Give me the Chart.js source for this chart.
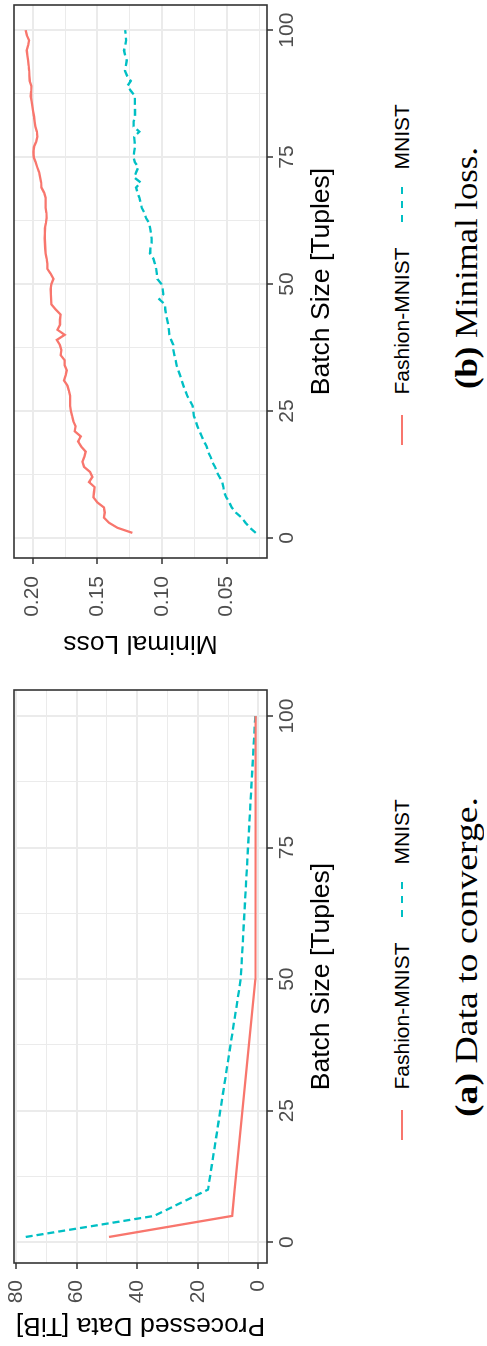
<!DOCTYPE html>
<html><head><meta charset="utf-8">
<script src="https://cdn.jsdelivr.net/npm/chart.js@4.4.0/dist/chart.umd.min.js"></script>
<style>
html,body{margin:0;padding:0;background:#fff;overflow:hidden;width:487px;height:1346px;}
#page{position:absolute;left:0;top:0;width:1346px;height:487px;transform-origin:0 0;transform:translate(0,1346px) rotate(-90deg);background:#fff;}
#page canvas{position:absolute;top:0;}
.lg{position:absolute;font-family:"Liberation Sans",Arial,sans-serif;font-size:21px;line-height:24px;color:#000;white-space:nowrap;}
.key{position:absolute;height:2px;}
.cap{position:absolute;font-family:"Liberation Serif","Times New Roman",serif;font-size:31px;line-height:34px;color:#000;white-space:nowrap;transform-origin:0 50%;}
</style></head>
<body>
<div id="page">
  <canvas id="ca" width="673" height="338" style="left:0px"></canvas>
  <canvas id="cb" width="673" height="338" style="left:673px"></canvas>
</div>
<script>
// ---------- data ----------
const SERIES_NAMES = ["Fashion-MNIST", "MNIST"];
const SERIES_COLORS = ["#F8766D", "#00BFC4"];

// (a) Data to converge
const BATCH_A = [1, 5, 10, 50, 100];
const FASHION_A = [49.3, 8.6, 7.8, 1.0, 0.9];
const MNIST_A = [76.8, 34.4, 16.6, 5.8, 1.0];

// (b) Minimal loss
const BATCH_B = [1,2,3,4,5,6,7,8,9,10,11,12,13,14,15,16,17,18,19,20,
  21,22,23,24,25,26,27,28,29,30,31,32,33,34,35,36,37,38,39,40,
  41,42,43,44,45,46,47,48,49,50,51,52,53,54,55,56,57,58,59,60,
  61,62,63,64,65,66,67,68,69,70,71,72,73,74,75,76,77,78,79,80,
  81,82,83,84,85,86,87,88,89,90,91,92,93,94,95,96,97,98,99,100];
const FASHION_B = [0.1230,0.1345,0.1410,0.1449,0.1443,0.1449,0.1500,0.1531,0.1526,0.1521,
  0.1564,0.1539,0.1557,0.1603,0.1616,0.1600,0.1590,0.1625,0.1650,0.1629,
  0.1675,0.1668,0.1686,0.1695,0.1705,0.1711,0.1711,0.1711,0.1720,0.1732,
  0.1758,0.1745,0.1737,0.1753,0.1753,0.1784,0.1778,0.1790,0.1814,0.1753,
  0.1809,0.1789,0.1789,0.1784,0.1822,0.1856,0.1858,0.1860,0.1861,0.1855,
  0.1840,0.1861,0.1887,0.1887,0.1893,0.1900,0.1903,0.1905,0.1907,0.1906,
  0.1905,0.1898,0.1892,0.1895,0.1900,0.1900,0.1900,0.1912,0.1933,0.1935,
  0.1943,0.1951,0.1965,0.1977,0.1992,0.1995,0.1990,0.1974,0.1964,0.1968,
  0.1980,0.1985,0.1990,0.1997,0.2003,0.2009,0.2015,0.2012,0.2010,0.2023,
  0.2025,0.2027,0.2031,0.2036,0.2041,0.2046,0.2036,0.2028,0.2046,0.2054];
const MNIST_B = [0.0275,0.0320,0.0355,0.0384,0.0430,0.0461,0.0480,0.0503,0.0520,0.0526,
  0.0535,0.0555,0.0577,0.0590,0.0612,0.0625,0.0645,0.0655,0.0675,0.0693,
  0.0710,0.0727,0.0740,0.0753,0.0758,0.0763,0.0785,0.0805,0.0820,0.0835,
  0.0848,0.0860,0.0874,0.0888,0.0895,0.0905,0.0912,0.0912,0.0930,0.0943,
  0.0947,0.0951,0.0960,0.0969,0.0975,0.0977,0.1021,0.0990,0.0995,0.1005,
  0.1036,0.1040,0.1046,0.1055,0.1067,0.1093,0.1090,0.1080,0.1080,0.1085,
  0.1093,0.1100,0.1124,0.1135,0.1157,0.1165,0.1175,0.1190,0.1201,0.1165,
  0.1216,0.1200,0.1183,0.1210,0.1220,0.1215,0.1209,0.1212,0.1216,0.1175,
  0.1220,0.1220,0.1209,0.1209,0.1209,0.1210,0.1209,0.1240,0.1268,0.1242,
  0.1270,0.1286,0.1280,0.1273,0.1285,0.1294,0.1285,0.1278,0.1280,0.1286];

// ticks
const X_MAJOR = [0, 25, 50, 75, 100];
const X_MINOR = [12.5, 37.5, 62.5, 87.5];
const YA_MAJOR = [0, 20, 40, 60, 80];
const YA_MINOR = [10, 30, 50, 70];
const YB_MAJOR = [0.05, 0.10, 0.15, 0.20];
const YB_MINOR = [0.025, 0.075, 0.125, 0.175];

const X_TITLE = "Batch Size [Tuples]";
const YA_TITLE = "Processed Data [TiB]";
const YB_TITLE = "Minimal Loss";
const CAPTIONS = [["(a)", " Data to converge."], ["(b)", " Minimal loss."]];

// ---------- drawing ----------
const SANS = "'Liberation Sans', Arial, sans-serif";
const near = (a, b) => Math.abs(a - b) < 1e-9;
const isIn = (arr, v) => arr.some(a => near(a, v));

const panelBorder = {
  id: 'panelBorder',
  afterDraw(chart) {
    const {ctx, chartArea: a} = chart;
    ctx.save();
    ctx.strokeStyle = '#333333';
    ctx.lineWidth = 1.6;
    ctx.strokeRect(a.left, a.top, a.right - a.left, a.bottom - a.top);
    ctx.restore();
  }
};

function axis(opts) {
  const all = opts.major.concat(opts.minor).sort((a, b) => a - b);
  return {
    type: 'linear',
    min: opts.min, max: opts.max,
    afterBuildTicks: s => { s.ticks = all.map(v => ({value: v})); },
    afterFit: s => {
      if (opts.width) s.width = opts.width;
      if (opts.height) s.height = opts.height;
      s.paddingTop = 0; s.paddingBottom = 0; s.paddingLeft = 0; s.paddingRight = 0;
    },
    border: {display: false},
    grid: {
      color: '#EBEBEB',
      lineWidth: c => (c.tick && isIn(opts.major, c.tick.value)) ? 2 : 1,
      tickColor: c => (c.tick && isIn(opts.major, c.tick.value)) ? '#333333' : 'rgba(0,0,0,0)',
      tickWidth: 1.5,
      tickLength: 6,
      drawTicks: true
    },
    ticks: {
      autoSkip: false, maxRotation: 0, minRotation: 0,
      padding: opts.pad,
      color: '#4D4D4D',
      font: {family: SANS, size: 21},
      callback: v => isIn(opts.major, v) ? opts.fmt(v) : ''
    },
    title: {
      display: true, text: opts.title, color: '#000000',
      font: {family: SANS, size: 26.5},
      padding: opts.titlePad
    }
  };
}

function makeChart(id, xs, ys1, ys2, yOpts, padRight) {
  const datasets = [ys1, ys2].map((ys, i) => ({
    label: SERIES_NAMES[i],
    data: xs.map((x, k) => ({x: x, y: ys[k]})),
    borderColor: SERIES_COLORS[i],
    borderWidth: 2.3,
    borderDash: i === 1 ? [7, 4] : [],
    borderCapStyle: 'butt',
    pointRadius: 0,
    tension: 0,
    fill: false
  }));
  return new Chart(document.getElementById(id), {
    type: 'line',
    data: {datasets},
    options: {
      responsive: false, animation: false, devicePixelRatio: 1,
      layout: {padding: {left: 0, right: padRight, top: 14, bottom: 0}},
      plugins: {legend: {display: false}, tooltip: {enabled: false}},
      scales: {
        x: axis({min: -3.95, max: 104.95, major: X_MAJOR, minor: X_MINOR, pad: 2,
                 fmt: v => String(v), title: X_TITLE, titlePad: {top: 0, bottom: 0}, height: 71}),
        y: axis(yOpts)
      }
    },
    plugins: [panelBorder]
  });
}

makeChart('ca', BATCH_A, FASHION_A, MNIST_A,
  {min: -2.87, max: 80.66, major: YA_MAJOR, minor: YA_MINOR, pad: 11,
   fmt: v => String(v), title: YA_TITLE, titlePad: {top: 5, bottom: 0}, width: 83}, 17);
makeChart('cb', BATCH_B, FASHION_B, MNIST_B,
  {min: 0.01884, max: 0.21446, major: YB_MAJOR, minor: YB_MINOR, pad: 12,
   fmt: v => v.toFixed(2), title: YB_TITLE, titlePad: {top: 14, bottom: 0}, width: 115}, 5);

// legends + captions (HTML, in the unrotated figure frame)
const page = document.getElementById('page');
function el(cls, css) {
  const d = document.createElement('div');
  d.className = cls; d.style.cssText = css;
  page.appendChild(d); return d;
}
const LEG_OFFSETS = [0, 695];
const CAP_LEFT = [229, 957];
const CAP_WIDTH = [320, 242];
LEG_OFFSETS.forEach((o, p) => {
  el('key', `left:${206 + o}px;top:401px;width:30px;background:${SERIES_COLORS[0]};`);
  el('lg', `left:${256.5 + o}px;top:390px;`).textContent = SERIES_NAMES[0];
  el('key', `left:${429 + o}px;top:401px;width:37px;background:repeating-linear-gradient(to right, ${SERIES_COLORS[1]} 0 7px, transparent 7px 14px);`);
  el('lg', `left:${481.5 + o}px;top:390px;`).textContent = SERIES_NAMES[1];
  const c = el('cap', `left:${CAP_LEFT[p]}px;top:450px;`);
  const b = document.createElement('b'); b.textContent = CAPTIONS[p][0];
  c.appendChild(b); c.appendChild(document.createTextNode(CAPTIONS[p][1]));
  const w = c.getBoundingClientRect().height; // rotated frame: visual height == text width
  c.style.transform = `scaleX(${CAP_WIDTH[p] / w})`;
});
</script>
</body></html>
